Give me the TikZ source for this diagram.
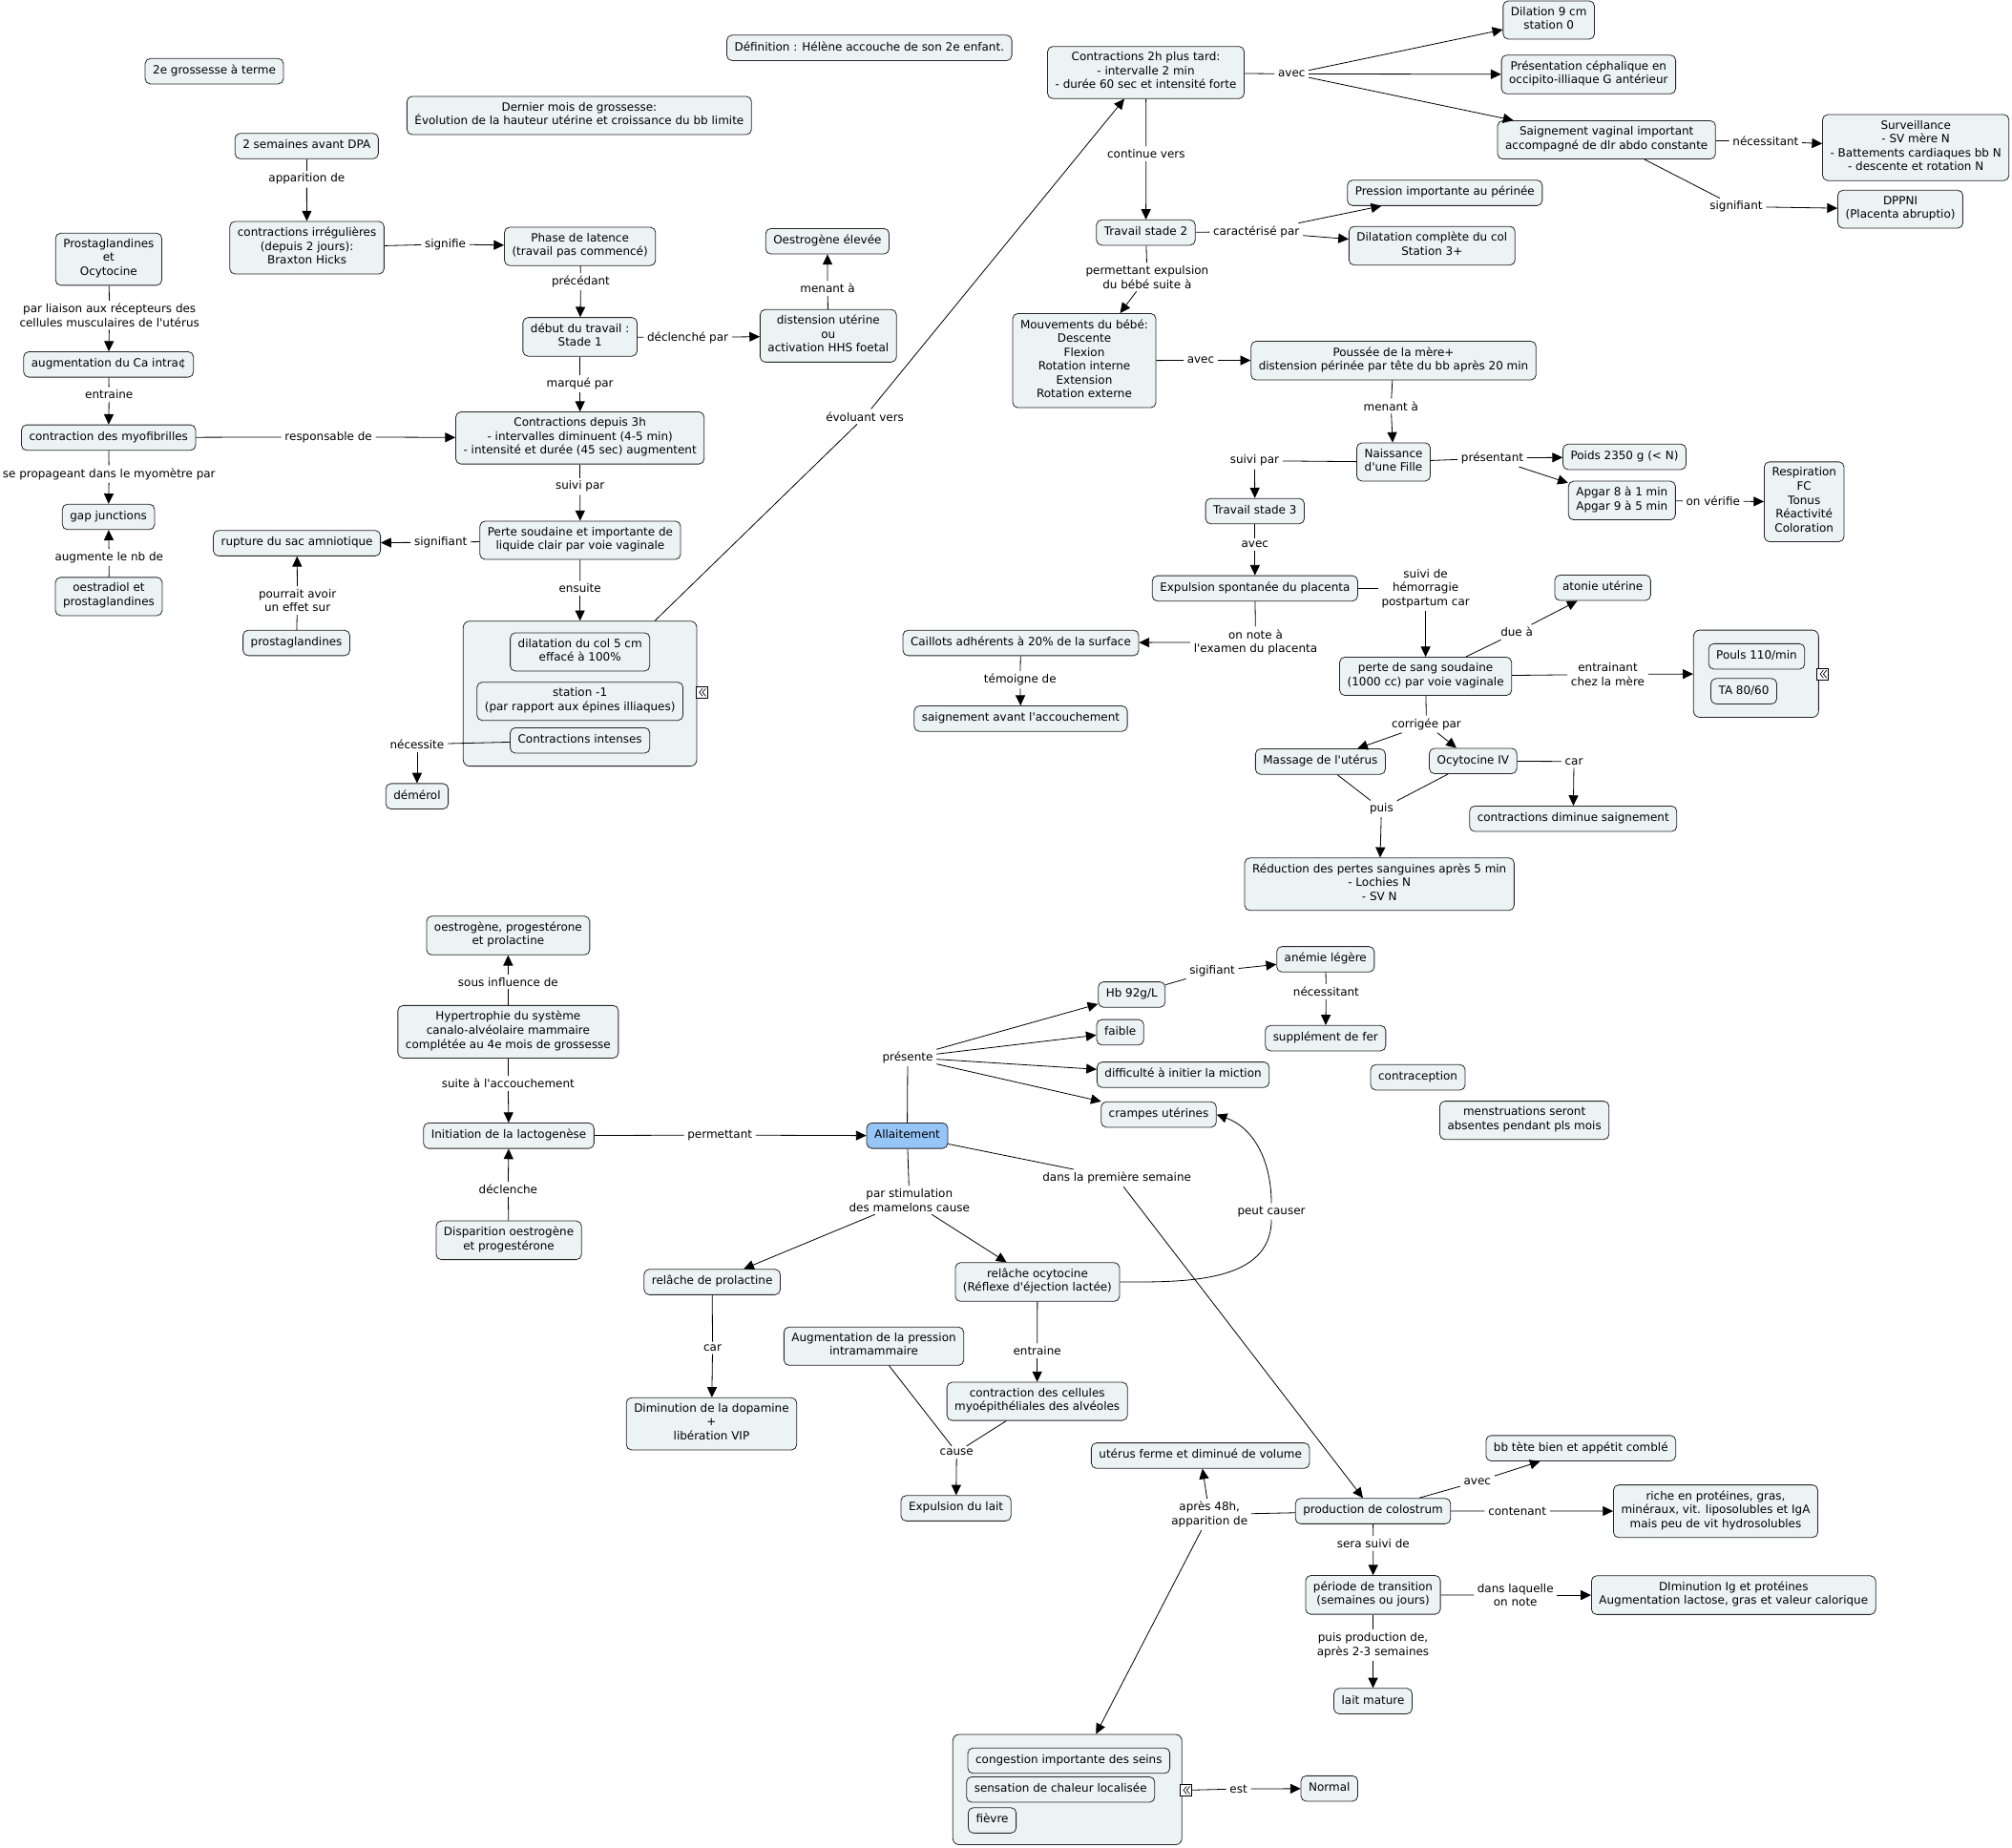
\documentclass[tikz,border=0pt]{standalone}
\usepackage{fontspec}
\setmainfont{DejaVu Sans}[Ligatures=TeXOff]
\usetikzlibrary{arrows.meta}
\definecolor{cmapfill}{RGB}{236,243,245}
\definecolor{cmapblue}{RGB}{150,198,248}

\begin{document}
\begin{tikzpicture}[x=1pt, y=-1pt, line width=0.6pt,
  every node/.style={font=\fontsize{8.9}{10.8}\selectfont},
  concept/.style={draw=black!85, fill=cmapfill, rounded corners=4pt, align=center,
    inner xsep=6pt, inner ysep=4.5pt, execute at begin node=\strut, execute at end node=\strut},
  linkword/.style={align=center, inner xsep=2.5pt, inner ysep=2pt},
  grp/.style={draw=black!85, fill=cmapfill, rounded corners=5pt},
  fold/.style={draw=black, fill=white, minimum size=9pt, inner sep=0pt, line width=0.6pt,
    path picture={
      \draw[line width=0.5pt] ([xshift=0.5pt,yshift=3pt]path picture bounding box.center)
        -- ++(-2.5pt,-3pt) -- ++(2.5pt,-3pt);
      \draw[line width=0.5pt] ([xshift=3pt,yshift=3pt]path picture bounding box.center)
        -- ++(-2.5pt,-3pt) -- ++(2.5pt,-3pt);}},
  arr/.style={-{Triangle[length=8pt,width=7.5pt]}}]

\useasboundingbox (0,0) rectangle (1568,1440);

% titles
\node[concept] (grossesse) at (167,55.5) {2e grossesse à terme};
\node[concept] (definition) at (677.5,37.3) {Définition : Hélène accouche de son 2e enfant.};
\node[concept] (dernier) at (451.4,90) {Dernier mois de grossesse:\\Évolution de la hauteur utérine et croissance du bb limite};

% stage 1
\node[concept] (dpa) at (239,113.8) {2 semaines avant DPA};
\node[concept] (braxton) at (239.2,193) {contractions irrégulières\\(depuis 2 jours):\\Braxton Hicks};
\node[concept] (latence) at (452,192) {Phase de latence\\(travail pas commencé)};
\node[concept] (debut) at (452,262.5) {début du travail :\\Stade 1};
\node[concept] (distension) at (645.5,261.7) {distension utérine\\ou\\activation HHS foetal};
\node[concept] (oestro) at (644.8,188) {Oestrogène élevée};
\node[concept] (contr3h) at (452,341.3) {Contractions depuis 3h\\- intervalles diminuent (4-5 min)\\- intensité et durée (45 sec) augmentent};
\node[concept] (perte) at (452.2,421) {Perte soudaine et importante de\\liquide clair par voie vaginale};
\node[concept] (rupture) at (231.4,423.3) {rupture du sac amniotique};
\node[concept] (prosta) at (231,501) {prostaglandines};

% group: dilatation
\node[grp, minimum width=182pt, minimum height=113pt] (phase1) at (452,540.5) {};
\node[fold] (foldA) at (547,539.5) {};
\node[concept] (dilat5) at (452,508) {dilatation du col 5 cm\\effacé à 100\%};
\node[concept] (station) at (452,546.5) {station -1\\(par rapport aux épines illiaques)};
\node[concept] (intenses) at (452,577) {Contractions intenses};
\node[concept] (demerol) at (325,620.5) {démérol};

% left column
\node[concept] (prostaoxy) at (84.7,202) {Prostaglandines\\et\\Ocytocine};
\node[concept] (calcium) at (84.6,284) {augmentation du Ca intra¢};
\node[concept] (myofib) at (84.6,341) {contraction des myofibrilles};
\node[concept] (gap) at (84.5,402.8) {gap junctions};
\node[concept] (oestradiol) at (84.8,464.8) {oestradiol et\\prostaglandines};

% stage 2
\node[concept] (contr2h) at (893,56.5) {Contractions 2h plus tard:\\- intervalle 2 min\\- durée 60 sec et intensité forte};
\node[concept] (dilat9) at (1207,15.6) {Dilation 9 cm\\station 0};
\node[concept] (presentation) at (1238,58) {Présentation céphalique en\\occipito-illiaque G antérieur};
\node[concept] (saignement) at (1252,109) {Saignement vaginal important\\accompagné de dlr abdo constante};
\node[concept] (surveillance) at (1493,115) {Surveillance\\- SV mère N\\- Battements cardiaques bb N\\- descente et rotation N};
\node[concept] (dppni) at (1481,163) {DPPNI\\(Placenta abruptio)};
\node[concept] (stade2) at (893,181.2) {Travail stade 2};
\node[concept] (pression) at (1126,150.3) {Pression importante au périnée};
\node[concept] (dilatcompl) at (1116,191.5) {Dilatation complète du col\\Station 3+};
\node[concept] (mouvements) at (845,281) {Mouvements du bébé:\\Descente\\Flexion\\Rotation interne\\Extension\\Rotation externe};
\node[concept] (poussee) at (1086,281) {Poussée de la mère+\\distension périnée par tête du bb après 20 min};
\node[concept] (naissance) at (1086,360) {Naissance\\d'une Fille};
\node[concept] (poids) at (1266,356) {Poids 2350 g (< N)};
\node[concept] (apgar) at (1264,390) {Apgar 8 à 1 min\\Apgar 9 à 5 min};
\node[concept] (respiration) at (1406,391) {Respiration\\FC\\Tonus\\Réactivité\\Coloration};

% stage 3
\node[concept] (stade3) at (978,398.3) {Travail stade 3};
\node[concept] (placenta) at (978,458.5) {Expulsion spontanée du placenta};
\node[concept] (pertesang) at (1111,527) {perte de sang soudaine\\(1000 cc) par voie vaginale};
\node[concept] (caillots) at (795.5,501) {Caillots adhérents à 20\% de la surface};
\node[concept] (saignavant) at (795.5,560) {saignement avant l'accouchement};
\node[concept] (atonie) at (1249,458) {atonie utérine};
\node[grp, minimum width=97.5pt, minimum height=68pt] (vitaux) at (1368.5,525) {};
\node[fold] (foldB) at (1420.5,525.3) {};
\node[concept] (pouls) at (1369,511.5) {Pouls 110/min};
\node[concept] (ta) at (1359,538.6) {TA 80/60};
\node[concept] (massage) at (1029,593.5) {Massage de l'utérus};
\node[concept] (ocytoiv) at (1148,593) {Ocytocine IV};
\node[concept] (contrdim) at (1226,638) {contractions diminue saignement};
\node[concept] (reduction) at (1075,689) {Réduction des pertes sanguines après 5 min\\- Lochies N\\- SV N};

% lactation
\node[concept] (hormones) at (396,729) {oestrogène, progestérone\\et prolactine};
\node[concept] (hypertrophie) at (396,804) {Hypertrophie du système\\canalo-alvéolaire mammaire\\complétée au 4e mois de grossesse};
\node[concept] (lactogenese) at (396.5,885) {Initiation de la lactogenèse};
\node[concept] (disparition) at (396.5,966.5) {Disparition oestrogène\\et progestérone};
\node[concept, fill=cmapblue] (allaitement) at (707,885) {Allaitement};
\node[concept] (hb) at (882,775) {Hb 92g/L};
\node[concept] (faible) at (873,804.4) {faible};
\node[concept] (miction) at (922,837.5) {difficulté à initier la miction};
\node[concept] (crampes) at (903,868.5) {crampes utérines};
\node[concept] (anemie) at (1033,747.5) {anémie légère};
\node[concept] (fer) at (1033,809) {supplément de fer};
\node[concept] (contraception) at (1105,839.5) {contraception};
\node[concept] (menstruations) at (1188,873) {menstruations seront\\absentes pendant pls mois};
\node[concept] (prolactine) at (555,999) {relâche de prolactine};
\node[concept] (ocytocine) at (808.5,999) {relâche ocytocine\\(Réflexe d'éjection lactée)};
\node[concept] (dopamine) at (554.5,1109.5) {Diminution de la dopamine\\+\\libération VIP};
\node[concept] (intramam) at (681,1049) {Augmentation de la pression\\intramammaire};
\node[concept] (myoepi) at (808.3,1092) {contraction des cellules\\myoépithéliales des alvéoles};
\node[concept] (expulsion) at (745,1175.3) {Expulsion du lait};
\node[concept] (uterus) at (935.5,1134.3) {utérus ferme et diminué de volume};
\node[concept] (colostrum) at (1070,1177.5) {production de colostrum};
\node[grp, minimum width=178.5pt, minimum height=86pt] (engorg) at (831.8,1394.5) {};
\node[fold] (foldC) at (924.3,1395) {};
\node[concept, anchor=west] (congestion) at (754,1372) {congestion importante des seins};
\node[concept, anchor=west] (chaleur) at (753,1394.5) {sensation de chaleur localisée};
\node[concept, anchor=west] (fievre) at (754.3,1418.5) {fièvre};
\node[concept] (normal) at (1036,1393.7) {Normal};
\node[concept] (tete) at (1232,1128.5) {bb tète bien et appétit comblé};
\node[concept] (riche) at (1337,1177.6) {riche en protéines, gras,\\minéraux, vit. liposolubles et IgA\\mais peu de vit hydrosolubles};
\node[concept] (transition) at (1070,1242.8) {période de transition\\(semaines ou jours)};
\node[concept] (diminution) at (1351,1243) {DIminution Ig et protéines\\Augmentation lactose, gras et valeur calorique};
\node[concept] (mature) at (1070,1325.6) {lait mature};

% linking words
\node[linkword] (lApparition) at (239,139.6) {apparition de};
\node[linkword] (lSignifie) at (347,190.3) {signifie};
\node[linkword] (lPrecedant) at (452.6,219.7) {précédant};
\node[linkword] (lDeclenche) at (536,263) {déclenché par};
\node[linkword] (lMenant) at (645,224.7) {menant à};
\node[linkword] (lMarque) at (452,299) {marqué par};
\node[linkword] (lSuivi) at (452,379) {suivi par};
\node[linkword] (lSignifiant) at (343.4,422.6) {signifiant};
\node[linkword] (lEffet) at (231.8,468) {pourrait avoir\\un effet sur};
\node[linkword] (lEnsuite) at (452,458.5) {ensuite};
\node[linkword] (lNecessite) at (325,580) {nécessite};
\node[linkword] (lEvoluant) at (674,324.6) {évoluant vers};
\node[linkword] (lLiaison) at (85.3,245.8) {par liaison aux récepteurs des\\cellules musculaires de l'utérus};
\node[linkword] (lEntraine) at (85,307.4) {entraine};
\node[linkword] (lResponsable) at (256,340.5) {responsable de};
\node[linkword] (lPropage) at (85,369.3) {se propageant dans le myomètre par};
\node[linkword] (lAugmente) at (85,434.4) {augmente le nb de};
\node[linkword] (lAvecA) at (1006.6,57.6) {avec};
\node[linkword] (lNecessitantA) at (1376,110) {nécessitant};
\node[linkword] (lSignifiantB) at (1353,161) {signifiant};
\node[linkword] (lContinue) at (893.2,119.9) {continue vers};
\node[linkword] (lCaracterise) at (979,180.6) {caractérisé par};
\node[linkword] (lPermettantA) at (894,216) {permettant expulsion\\du bébé suite à};
\node[linkword] (lAvecB) at (935.7,280.8) {avec};
\node[linkword] (lMenantB) at (1084,316.4) {menant à};
\node[linkword] (lPresentant) at (1163,357) {présentant};
\node[linkword] (lVerifie) at (1335,390.6) {on vérifie};
\node[linkword] (lSuiviPar) at (977.7,359) {suivi par};
\node[linkword] (lAvecC) at (978,424) {avec};
\node[linkword] (lHemorragie) at (1111,458.5) {suivi de\\hémorragie\\postpartum car};
\node[linkword] (lNote) at (978.5,500.4) {on note à\\l'examen du placenta};
\node[linkword] (lTemoigne) at (795,529.8) {témoigne de};
\node[linkword] (lDue) at (1182,492.6) {due à};
\node[linkword] (lEntrainant) at (1253,525.5) {entrainant\\chez la mère};
\node[linkword] (lCorrigee) at (1111.6,564.3) {corrigée par};
\node[linkword] (lCarA) at (1226.6,593.4) {car};
\node[linkword] (lPuis) at (1076.6,630.3) {puis};
\node[linkword] (lInfluence) at (396,765.2) {sous influence de};
\node[linkword] (lSuite) at (396,844.4) {suite à l'accouchement};
\node[linkword] (lDeclencheB) at (396,926.7) {déclenche};
\node[linkword] (lPermettantB) at (561,884.5) {permettant};
\node[linkword] (lPresente) at (707.4,824) {présente};
\node[linkword] (lSigifiant) at (944.7,756.8) {sigifiant};
\node[linkword] (lNecessitantB) at (1033.5,772.7) {nécessitant};
\node[linkword] (lStimulation) at (708.7,935.2) {par stimulation\\des mamelons cause};
\node[linkword] (lSemaine) at (870.4,918) {dans la première semaine};
\node[linkword] (lPeut) at (990.8,944) {peut causer};
\node[linkword] (lCarB) at (555.3,1050.4) {car};
\node[linkword] (lEntraineB) at (808.3,1052.6) {entraine};
\node[linkword] (lCause) at (745.5,1131.7) {cause};
\node[linkword] (lApres) at (942.6,1180.2) {après 48h,\\apparition de};
\node[linkword] (lEst) at (965.2,1394) {est};
\node[linkword] (lAvecD) at (1151.3,1154.4) {avec};
\node[linkword] (lContenant) at (1182.4,1177.4) {contenant};
\node[linkword] (lSera) at (1070.2,1202.6) {sera suivi de};
\node[linkword] (lLaquelle) at (1181,1243) {dans laquelle\\on note};
\node[linkword] (lPuisProd) at (1070,1282) {puis production de,\\après 2-3 semaines};

% connectors: concept to linking word
\foreach \a/\b in {dpa/lApparition, braxton/lSignifie, latence/lPrecedant, debut/lDeclenche,
    distension/lMenant, debut/lMarque, contr3h/lSuivi, perte/lSignifiant, prosta/lEffet,
    perte/lEnsuite, intenses/lNecessite, phase1/lEvoluant, prostaoxy/lLiaison, calcium/lEntraine,
    myofib/lResponsable, myofib/lPropage, oestradiol/lAugmente, contr2h/lAvecA,
    saignement/lNecessitantA, saignement/lSignifiantB, contr2h/lContinue, stade2/lCaracterise,
    stade2/lPermettantA, mouvements/lAvecB, poussee/lMenantB, naissance/lPresentant,
    apgar/lVerifie, naissance/lSuiviPar, stade3/lAvecC, placenta/lHemorragie, placenta/lNote,
    caillots/lTemoigne, pertesang/lDue, pertesang/lEntrainant, pertesang/lCorrigee, ocytoiv/lCarA,
    massage/lPuis, ocytoiv/lPuis, hypertrophie/lInfluence, hypertrophie/lSuite,
    disparition/lDeclencheB, lactogenese/lPermettantB, allaitement/lPresente, hb/lSigifiant,
    anemie/lNecessitantB, allaitement/lStimulation, allaitement/lSemaine, prolactine/lCarB,
    ocytocine/lEntraineB, intramam/lCause, myoepi/lCause, colostrum/lApres, foldC/lEst,
    colostrum/lAvecD, colostrum/lContenant, colostrum/lSera, transition/lLaquelle,
    transition/lPuisProd}
  \draw (\a) -- (\b);

% connectors: linking word to concept
\foreach \a/\b in {lApparition/braxton, lSignifie/latence, lPrecedant/debut, lDeclenche/distension,
    lMenant/oestro, lMarque/contr3h, lSuivi/perte, lSignifiant/rupture, lEffet/rupture,
    lEnsuite/phase1, lNecessite/demerol, lEvoluant/contr2h, lLiaison/calcium, lEntraine/myofib,
    lResponsable/contr3h, lPropage/gap, lAugmente/gap, lAvecA/dilat9, lAvecA/presentation,
    lAvecA/saignement, lNecessitantA/surveillance, lSignifiantB/dppni, lContinue/stade2,
    lCaracterise/pression, lCaracterise/dilatcompl, lPermettantA/mouvements, lAvecB/poussee,
    lMenantB/naissance, lPresentant/poids, lPresentant/apgar, lVerifie/respiration,
    lSuiviPar/stade3, lAvecC/placenta, lHemorragie/pertesang, lNote/caillots,
    lTemoigne/saignavant, lDue/atonie, lEntrainant/vitaux, lCorrigee/massage, lCorrigee/ocytoiv,
    lCarA/contrdim, lPuis/reduction, lInfluence/hormones, lSuite/lactogenese,
    lDeclencheB/lactogenese, lPermettantB/allaitement, lPresente/hb, lPresente/faible,
    lPresente/miction, lPresente/crampes, lSigifiant/anemie, lNecessitantB/fer,
    lStimulation/prolactine, lStimulation/ocytocine, lSemaine/colostrum, lCarB/dopamine,
    lEntraineB/myoepi, lCause/expulsion, lApres/uterus, lApres/engorg, lEst/normal,
    lAvecD/tete, lContenant/riche, lSera/transition, lLaquelle/diminution, lPuisProd/mature}
  \draw[arr] (\a) -- (\b);

% curved link
\draw (ocytocine.east) to[out=0, in=-90] (lPeut.south);
\draw[arr] (lPeut.north) to[out=90, in=-20] (crampes.east);

\end{tikzpicture}
\end{document}
